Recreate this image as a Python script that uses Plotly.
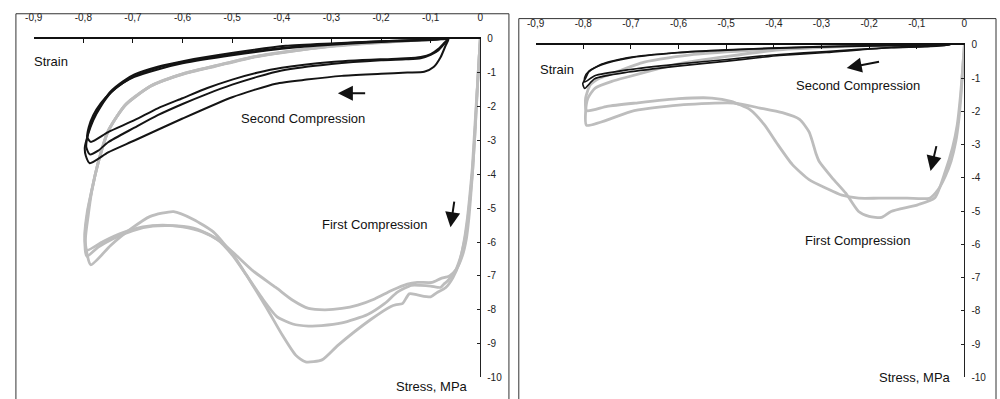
import plotly.graph_objects as go

# ---------------- Left specimen ----------------
# First compression loops (strain, stress in MPa)
left_first_a_strain = [0, -0.005, -0.010, -0.015, -0.019, -0.023, -0.028, -0.036, -0.048, -0.062, -0.080,
                       -0.097, -0.127, -0.147, -0.179, -0.213, -0.247, -0.279, -0.313, -0.346, -0.378,
                       -0.412, -0.458, -0.492, -0.526, -0.560, -0.600, -0.640, -0.680, -0.720, -0.760, -0.793,
                       -0.797, -0.792, -0.785, -0.771, -0.751, -0.717, -0.665, -0.597, -0.532, -0.458,
                       -0.398, -0.300, -0.213, -0.140, -0.070]
left_first_a_stress = [0, -1.2, -2.6, -3.8, -4.6, -5.3, -5.9, -6.4, -6.8, -7.0, -7.08,
                       -7.19, -7.19, -7.24, -7.43, -7.68, -7.86, -7.96, -8.0, -7.96, -7.72,
                       -7.34, -6.85, -6.39, -5.96, -5.70, -5.55, -5.50, -5.55, -5.72, -5.98, -6.24,
                       -5.80, -5.10, -4.60, -3.70, -2.75, -1.98, -1.40, -1.03, -0.80, -0.54,
                       -0.40, -0.22, -0.12, -0.05, 0]

left_first_b_strain = [0, -0.005, -0.010, -0.015, -0.020, -0.025, -0.031, -0.040, -0.052, -0.066, -0.074,
                       -0.080, -0.100, -0.120, -0.139, -0.167, -0.193, -0.227, -0.279, -0.320, -0.346,
                       -0.378, -0.410, -0.440, -0.472, -0.500, -0.530, -0.570, -0.610, -0.660, -0.700,
                       -0.740, -0.770, -0.793,
                       -0.797, -0.791, -0.784, -0.770, -0.750, -0.715, -0.663, -0.595, -0.530, -0.456,
                       -0.396, -0.300, -0.213, -0.140, -0.072]
left_first_b_stress = [0, -1.2, -2.6, -3.8, -4.6, -5.3, -5.9, -6.45, -6.9, -7.15, -7.25,
                       -7.34, -7.30, -7.28, -7.28, -7.48, -7.82, -8.14, -8.39, -8.47, -8.48,
                       -8.42, -8.20, -7.65, -6.96, -6.38, -5.92, -5.62, -5.52, -5.53, -5.66,
                       -5.90, -6.15, -6.42,
                       -5.90, -5.10, -4.55, -3.65, -2.72, -1.95, -1.38, -1.01, -0.78, -0.53,
                       -0.39, -0.21, -0.11, -0.05, 0]

left_first_c_strain = [0, -0.005, -0.011, -0.016, -0.021, -0.026, -0.033, -0.042, -0.055, -0.070, -0.088,
                       -0.100, -0.127, -0.143, -0.157, -0.169, -0.180, -0.220, -0.287, -0.319, -0.352,
                       -0.372, -0.398, -0.432, -0.472, -0.498, -0.538, -0.578, -0.618, -0.665, -0.705,
                       -0.745, -0.785,
                       -0.796, -0.790, -0.783, -0.769, -0.749, -0.714, -0.661, -0.593, -0.528, -0.455,
                       -0.395, -0.300, -0.213, -0.140, -0.075]
left_first_c_stress = [0, -1.2, -2.6, -3.8, -4.6, -5.3, -6.0, -6.6, -7.05, -7.35, -7.50,
                       -7.62, -7.56, -7.53, -7.82, -7.85, -7.90, -8.28, -9.05, -9.48, -9.54,
                       -9.34, -8.77, -7.91, -6.96, -6.38, -5.70, -5.33, -5.10, -5.24, -5.62,
                       -6.10, -6.67,
                       -6.00, -5.20, -4.50, -3.60, -2.70, -1.92, -1.36, -1.00, -0.77, -0.52,
                       -0.38, -0.21, -0.11, -0.05, 0]

# Second compression loops
left_second_a_strain = [-0.066, -0.075, -0.085, -0.100, -0.120, -0.150, -0.200, -0.300, -0.400, -0.450,
                        -0.500, -0.550, -0.600, -0.650, -0.697, -0.750, -0.785,
                        -0.792, -0.789, -0.780, -0.765, -0.745, -0.720, -0.697, -0.650, -0.600, -0.500,
                        -0.400, -0.300, -0.200, -0.100, -0.066]
left_second_a_stress = [0, -0.15, -0.30, -0.45, -0.53, -0.57, -0.60, -0.68, -0.85, -1.00,
                        -1.20, -1.45, -1.75, -2.05, -2.40, -2.75, -3.04,
                        -2.90, -2.60, -2.25, -1.90, -1.58, -1.30, -1.12, -0.90, -0.72, -0.48,
                        -0.29, -0.17, -0.09, -0.03, 0]

left_second_b_strain = [-0.065, -0.074, -0.084, -0.100, -0.120, -0.150, -0.200, -0.300, -0.400, -0.450,
                        -0.500, -0.550, -0.600, -0.650, -0.697, -0.750, -0.770, -0.787,
                        -0.794, -0.792, -0.786, -0.771, -0.745, -0.720, -0.697, -0.650, -0.597, -0.498,
                        -0.392, -0.300, -0.200, -0.100, -0.065]
left_second_b_stress = [0, -0.17, -0.33, -0.47, -0.57, -0.60, -0.63, -0.74, -0.93, -1.12,
                        -1.35, -1.62, -1.92, -2.25, -2.62, -3.05, -3.30, -3.41,
                        -3.20, -2.90, -2.55, -2.10, -1.55, -1.25, -1.05, -0.82, -0.65, -0.41,
                        -0.20, -0.13, -0.07, -0.02, 0]

left_second_c_strain = [-0.064, -0.070, -0.080, -0.094, -0.113, -0.147, -0.200, -0.279, -0.350, -0.412,
                        -0.500, -0.600, -0.697, -0.750, -0.787,
                        -0.795, -0.797, -0.790, -0.780, -0.765, -0.745, -0.720, -0.697, -0.650, -0.600,
                        -0.500, -0.400, -0.300, -0.200, -0.100, -0.064]
left_second_c_stress = [0, -0.20, -0.54, -0.83, -0.97, -0.99, -1.03, -1.09, -1.20, -1.32,
                        -1.72, -2.35, -3.00, -3.35, -3.67,
                        -3.45, -3.20, -2.80, -2.40, -2.00, -1.60, -1.30, -1.10, -0.85, -0.68,
                        -0.45, -0.27, -0.15, -0.07, -0.02, 0]

# ---------------- Right specimen ----------------
right_first_a_strain = [0, -0.003, -0.007, -0.012, -0.018, -0.028, -0.040, -0.055, -0.073, -0.120, -0.180,
                        -0.222, -0.257, -0.290, -0.326, -0.361, -0.394, -0.420, -0.450, -0.490, -0.530,
                        -0.600, -0.690, -0.750, -0.793,
                        -0.795, -0.785, -0.765, -0.740, -0.672, -0.568, -0.429, -0.300, -0.150]
right_first_a_stress = [0, -0.6, -1.5, -2.3, -2.9, -3.5, -3.95, -4.35, -4.61, -4.61, -4.61,
                        -4.61, -4.52, -4.31, -4.05, -3.60, -2.95, -2.40, -1.95, -1.70, -1.60,
                        -1.62, -1.75, -1.85, -1.98,
                        -1.60, -1.20, -1.00, -0.87, -0.52, -0.29, -0.15, -0.06, 0]

right_first_b_strain = [0, -0.003, -0.008, -0.015, -0.025, -0.040, -0.062, -0.098, -0.154, -0.174, -0.200,
                        -0.222, -0.249, -0.278, -0.305, -0.311, -0.326, -0.346, -0.382, -0.429, -0.485,
                        -0.589, -0.693, -0.793,
                        -0.795, -0.790, -0.775, -0.740, -0.705, -0.650, -0.602, -0.498, -0.388, -0.250,
                        -0.150]
right_first_b_stress = [0, -0.6, -1.5, -2.4, -3.1, -3.8, -4.6, -4.81, -5.01, -5.19, -5.16,
                        -5.01, -4.46, -3.99, -3.50, -3.29, -2.62, -2.24, -2.04, -1.90, -1.75,
                        -1.80, -1.98, -2.42,
                        -2.00, -1.60, -1.30, -1.10, -0.96, -0.75, -0.58, -0.35, -0.15, -0.05,
                        0]

right_second_a_strain = [-0.030, -0.083, -0.154, -0.290, -0.388, -0.429, -0.498, -0.602, -0.705, -0.776,
                         -0.797,
                         -0.797, -0.788, -0.761, -0.705, -0.602, -0.498, -0.388, -0.250, -0.100, -0.030]
right_second_a_stress = [0, -0.05, -0.08, -0.20, -0.29, -0.34, -0.44, -0.58, -0.75, -0.93,
                         -1.12,
                         -0.98, -0.79, -0.60, -0.40, -0.24, -0.16, -0.10, -0.05, -0.01, 0]

right_second_b_strain = [-0.030, -0.083, -0.154, -0.290, -0.388, -0.429, -0.498, -0.602, -0.705, -0.776,
                         -0.797,
                         -0.801, -0.795, -0.788, -0.761, -0.705, -0.602, -0.498, -0.388, -0.250, -0.100,
                         -0.030]
right_second_b_stress = [0, -0.06, -0.09, -0.23, -0.32, -0.38, -0.49, -0.64, -0.82, -1.02,
                         -1.31,
                         -1.17, -1.00, -0.81, -0.58, -0.38, -0.23, -0.15, -0.09, -0.04, -0.01,
                         0]

# Axis ticks
strain_ticks = [-0.9, -0.8, -0.7, -0.6, -0.5, -0.4, -0.3, -0.2, -0.1, 0]
strain_tick_labels = ["-0,9", "-0,8", "-0,7", "-0,6", "-0,5", "-0,4", "-0,3", "-0,2", "-0,1", "0"]
stress_ticks = [0, -1, -2, -3, -4, -5, -6, -7, -8, -9, -10]
stress_tick_labels = ["0", "-1", "-2", "-3", "-4", "-5", "-6", "-7", "-8", "-9", "-10"]

GRAY = "#bdbdbd"
BLACK = "#141414"
FONT = "Liberation Sans, Arial, sans-serif"
H = 399.0

fig = go.Figure()


def add_curve(xs, ys, color, width, xa, ya):
    fig.add_trace(go.Scatter(x=xs, y=ys, mode="lines", xaxis=xa, yaxis=ya,
                             line=dict(color=color, width=width, shape="spline", smoothing=0.6),
                             hoverinfo="skip", showlegend=False))


# Gray first-compression loops drawn beneath the black second-compression loops
add_curve(left_first_a_strain, left_first_a_stress, GRAY, 2.8, "x", "y")
add_curve(left_first_b_strain, left_first_b_stress, GRAY, 2.8, "x", "y")
add_curve(left_first_c_strain, left_first_c_stress, GRAY, 2.8, "x", "y")
add_curve(left_second_a_strain, left_second_a_stress, BLACK, 2.0, "x", "y")
add_curve(left_second_b_strain, left_second_b_stress, BLACK, 2.0, "x", "y")
add_curve(left_second_c_strain, left_second_c_stress, BLACK, 2.0, "x", "y")

add_curve(right_first_a_strain, right_first_a_stress, GRAY, 2.8, "x2", "y2")
add_curve(right_first_b_strain, right_first_b_stress, GRAY, 2.8, "x2", "y2")
add_curve(right_second_a_strain, right_second_a_stress, BLACK, 1.6, "x2", "y2")
add_curve(right_second_b_strain, right_second_b_stress, BLACK, 1.6, "x2", "y2")


def xaxis_cfg(x0, x1, anchor):
    return dict(domain=[x0 / 1000, x1 / 1000], range=[-0.9, 0], side="top", anchor=anchor,
                tickvals=strain_ticks, ticktext=strain_tick_labels,
                showline=True, linecolor="#111", linewidth=2, ticks="inside",
                ticklen=4, tickcolor="#111", showgrid=False, zeroline=False,
                ticklabelstandoff=12,
                tickfont=dict(family=FONT, size=10, color="#222"), fixedrange=True)


def yaxis_cfg(y_top, y_bottom, anchor):
    return dict(domain=[(H - y_bottom) / H, (H - y_top) / H], range=[-10, 0], side="right",
                anchor=anchor, tickvals=stress_ticks, ticktext=stress_tick_labels,
                showline=True, linecolor="#222", linewidth=1, ticks="inside",
                ticklen=3, tickcolor="#222", showgrid=False, zeroline=False,
                ticklabelstandoff=4,
                tickfont=dict(family=FONT, size=10, color="#222"), fixedrange=True)


fig.update_layout(
    width=1000, height=399,
    margin=dict(l=0, r=0, t=0, b=0),
    paper_bgcolor="white", plot_bgcolor="white",
    xaxis=xaxis_cfg(25, 477, "y"), yaxis=yaxis_cfg(34, 383, "x"),
    xaxis2=xaxis_cfg(533, 967, "y2"), yaxis2=yaxis_cfg(40, 383, "x2"),
    showlegend=False,
)

# Panel frames
fig.add_shape(type="rect", xref="paper", yref="paper", x0=7 / 1000, x1=506 / 1000,
              y0=-0.05, y1=(H - 8) / H, line=dict(color="#333", width=1))
fig.add_shape(type="rect", xref="paper", yref="paper", x0=516 / 1000, x1=999 / 1000,
              y0=-0.05, y1=(H - 13) / H, line=dict(color="#333", width=1))


def label(text, x, y, xa, ya, anchor="center"):
    fig.add_annotation(text=text, x=x, y=y, xref=xa, yref=ya, showarrow=False,
                       xanchor=anchor, yanchor="middle",
                       font=dict(family=FONT, size=13, color="#111"))


def arrow(x_head, y_head, x_tail, y_tail, xa, ya):
    fig.add_annotation(x=x_head, y=y_head, ax=x_tail, ay=y_tail, xref=xa, yref=ya,
                       axref=xa, ayref=ya, text="", showarrow=True, arrowhead=2,
                       arrowsize=1.5, arrowwidth=2, arrowcolor="#111")


# Axis titles placed on the page
label("Strain", 23 / 1000, (H - 57) / H, "paper", "paper", "left")
label("Stress, MPa", 428 / 1000, (H - 392) / H, "paper", "paper")
label("Strain", 535 / 1000, (H - 65) / H, "paper", "paper", "left")
label("Stress, MPa", 917 / 1000, (H - 383) / H, "paper", "paper")

label("Second Compression", -0.358, -2.35, "x", "y")
label("First Compression", -0.213, -5.47, "x", "y")
arrow(-0.287, -1.6, -0.229, -1.6, "x", "y")
arrow(-0.060, -5.56, -0.052, -4.76, "x", "y")

label("Second Compression", -0.224, -1.22, "x2", "y2")
label("First Compression", -0.224, -5.89, "x2", "y2")
arrow(-0.247, -0.70, -0.176, -0.50, "x2", "y2")
arrow(-0.071, -3.79, -0.058, -3.00, "x2", "y2")

fig.write_html("out.html")
